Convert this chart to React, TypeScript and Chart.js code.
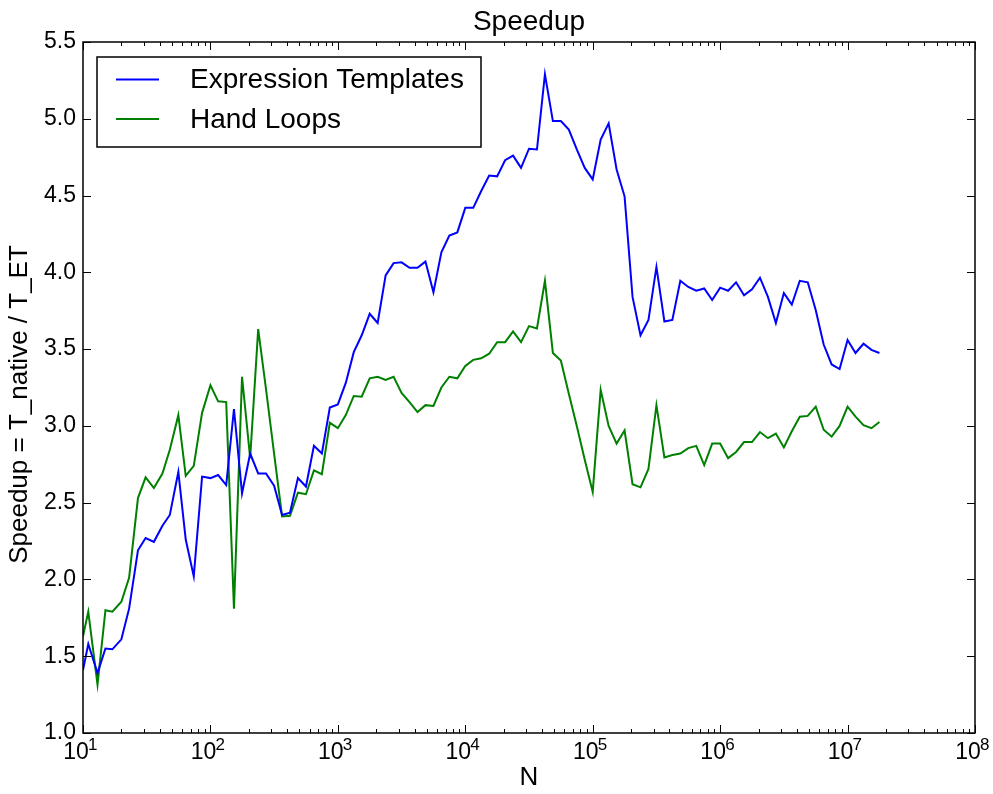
import React, { useEffect, useRef } from 'react';
import { Chart, registerables } from 'chart.js';

Chart.register(...registerables);

// Problem sizes N (log-spaced, 16 per decade)
const N = [
  10, 11, 13, 15, 17, 20, 23, 27, 31, 36, 42, 48, 56, 64, 74, 86,
  100, 115, 133, 153, 177, 205, 237, 273, 316, 365, 421, 486, 562, 649, 749, 865,
  1000, 1154, 1333, 1539, 1778, 2053, 2371, 2738, 3162, 3651, 4216, 4869, 5623, 6493, 7498, 8659,
  10000, 11547, 13335, 15399, 17782, 20535, 23713, 27384, 31622, 36517, 42169, 48696, 56234, 64938, 74989, 86596,
  100000, 115478, 133352, 153992, 177827, 205352, 237137, 273841, 316227, 365174, 421696, 486967, 562341, 649381, 749894, 865964,
  1000000, 1154781, 1333521, 1539926, 1778279, 2053525, 2371373, 2738419, 3162277, 3651741, 4216965, 4869675, 5623413, 6493816, 7498942, 8659643,
  10000000, 11547819, 13335214, 15399265, 17782794,
];

// Speedup, Expression Templates
const ET = [
  1.41, 1.58, 1.39, 1.55, 1.545, 1.61, 1.81, 2.19, 2.27, 2.245, 2.35, 2.42, 2.70, 2.26, 2.02, 2.67,
  2.66, 2.68, 2.615, 3.11, 2.56, 2.82, 2.69, 2.69, 2.61, 2.42, 2.435, 2.66, 2.605, 2.87, 2.82, 3.12,
  3.14, 3.28, 3.48, 3.59, 3.73, 3.67, 3.98, 4.06, 4.065, 4.03, 4.03, 4.07, 3.87, 4.13, 4.24, 4.26,
  4.42, 4.42, 4.53, 4.63, 4.625, 4.73, 4.76, 4.68, 4.805, 4.80, 5.29, 4.985, 4.985, 4.93, 4.80, 4.68,
  4.605, 4.865, 4.97, 4.67, 4.495, 3.84, 3.59, 3.69, 4.035, 3.68, 3.69, 3.945, 3.905, 3.88, 3.895, 3.82,
  3.90, 3.88, 3.935, 3.85, 3.89, 3.965, 3.84, 3.67, 3.865, 3.79, 3.945, 3.935, 3.755, 3.53, 3.40, 3.37,
  3.56, 3.475, 3.535, 3.495, 3.475,
];

// Speedup, Hand Loops
const HL = [
  1.63, 1.79, 1.315, 1.80, 1.79, 1.855, 2.01, 2.53, 2.665, 2.595, 2.69, 2.845, 3.07, 2.675, 2.74, 3.085,
  3.265, 3.16, 3.155, 1.81, 3.32, 2.79, 3.63, 3.24, 2.82, 2.41, 2.415, 2.565, 2.555, 2.71, 2.685, 3.02,
  2.985, 3.07, 3.195, 3.19, 3.31, 3.32, 3.30, 3.32, 3.215, 3.155, 3.09, 3.135, 3.13, 3.25, 3.32, 3.31,
  3.39, 3.43, 3.44, 3.47, 3.545, 3.545, 3.615, 3.545, 3.65, 3.635, 3.945, 3.475, 3.425, 3.21, 3.00, 2.78,
  2.57, 3.235, 3.00, 2.885, 2.97, 2.62, 2.60, 2.72, 3.135, 2.795, 2.81, 2.82, 2.855, 2.87, 2.745, 2.885,
  2.885, 2.79, 2.83, 2.895, 2.895, 2.96, 2.92, 2.95, 2.86, 2.965, 3.06, 3.065, 3.125, 2.975, 2.93, 3.00,
  3.125, 3.06, 3.005, 2.985, 3.025,
];

const SERIES_LABELS = ['Expression Templates', 'Hand Loops'];
const SERIES_COLORS = ['#0000ff', '#008000'];

const X_TICKS = [1e1, 1e2, 1e3, 1e4, 1e5, 1e6, 1e7, 1e8];
const X_EXPONENTS = ['1', '2', '3', '4', '5', '6', '7', '8'];
const Y_TICKS = [1.0, 1.5, 2.0, 2.5, 3.0, 3.5, 4.0, 4.5, 5.0, 5.5];

const TITLE = 'Speedup';
const X_TITLE = 'N';
const Y_TITLE = 'Speedup = T_native / T_ET';

const FONT = "'Liberation Sans', Arial, Helvetica, sans-serif";

const decorPlugin = {
  id: 'decor',
  afterDraw(chart: any) {
    const { ctx, chartArea: a, scales } = chart;
    const xs = scales.x;
    const ys = scales.y;
    ctx.save();
    ctx.strokeStyle = '#000';
    ctx.lineWidth = 1;
    ctx.beginPath();
    for (const v of Y_TICKS) {
      const y = Math.round(ys.getPixelForValue(v)) + 0.5;
      ctx.moveTo(a.left, y);
      ctx.lineTo(a.left + 8, y);
      ctx.moveTo(a.right, y);
      ctx.lineTo(a.right - 8, y);
    }
    for (let d = 1; d <= 8; d++) {
      for (let m = 1; m <= 9; m++) {
        if (d === 8 && m > 1) break;
        const v = m * Math.pow(10, d);
        const x = Math.round(xs.getPixelForValue(v)) + 0.5;
        const len = m === 1 ? 8 : 4;
        ctx.moveTo(x, a.bottom);
        ctx.lineTo(x, a.bottom - len);
        ctx.moveTo(x, a.top);
        ctx.lineTo(x, a.top + len);
      }
    }
    ctx.stroke();

    ctx.lineWidth = 1.5;
    ctx.strokeRect(a.left, a.top, a.right - a.left, a.bottom - a.top);

    // exponents of the x tick labels (10^n)
    ctx.fillStyle = '#000';
    ctx.font = `17px ${FONT}`;
    ctx.textAlign = 'left';
    ctx.textBaseline = 'middle';
    X_TICKS.forEach((v, i) => {
      const x = xs.getPixelForValue(v);
      ctx.fillText(X_EXPONENTS[i], x + 5, a.bottom + 12);
    });

    // y-axis title
    ctx.save();
    ctx.font = `26px ${FONT}`;
    ctx.textAlign = 'center';
    ctx.textBaseline = 'middle';
    ctx.translate(20, (a.top + a.bottom) / 2 + 17);
    ctx.rotate(-Math.PI / 2);
    ctx.fillText(Y_TITLE, 0, 0);
    ctx.restore();

    // title
    ctx.font = `28px ${FONT}`;
    ctx.textAlign = 'center';
    ctx.textBaseline = 'middle';
    ctx.fillText(TITLE, (a.left + a.right) / 2, 22);

    // legend
    const lx = a.left + 14;
    const ly = a.top + 15;
    const lw = 384;
    const lh = 90;
    ctx.fillStyle = '#fff';
    ctx.fillRect(lx, ly, lw, lh);
    ctx.lineWidth = 1.5;
    ctx.strokeStyle = '#000';
    ctx.strokeRect(lx, ly, lw, lh);
    const rows = [ly + 22.5, ly + 62];
    chart.data.datasets.forEach((ds: any, i: number) => {
      ctx.strokeStyle = ds.borderColor;
      ctx.lineWidth = 2;
      ctx.beginPath();
      ctx.moveTo(lx + 19, rows[i]);
      ctx.lineTo(lx + 62, rows[i]);
      ctx.stroke();
      ctx.fillStyle = '#000';
      ctx.font = `28px ${FONT}`;
      ctx.textAlign = 'left';
      ctx.textBaseline = 'middle';
      ctx.fillText(ds.label, lx + 93, rows[i] + 1);
    });
    ctx.restore();
  },
};

export default function App() {
  const ref = useRef<HTMLCanvasElement>(null);

  useEffect(() => {
    if (!ref.current) return;
    Chart.defaults.font.family = FONT;
    const chart = new Chart(ref.current, {
      type: 'line',
      data: {
        datasets: [
          {
            label: SERIES_LABELS[0],
            data: N.map((n, i) => ({ x: n, y: ET[i] })),
            borderColor: SERIES_COLORS[0],
            backgroundColor: SERIES_COLORS[0],
            borderWidth: 2,
            pointRadius: 0,
            tension: 0,
            fill: false,
          },
          {
            label: SERIES_LABELS[1],
            data: N.map((n, i) => ({ x: n, y: HL[i] })),
            borderColor: SERIES_COLORS[1],
            backgroundColor: SERIES_COLORS[1],
            borderWidth: 2,
            pointRadius: 0,
            tension: 0,
            fill: false,
          },
        ],
      },
      options: {
        responsive: false,
        animation: false,
        devicePixelRatio: 1,
        layout: { padding: { top: 42, left: 0, right: 18, bottom: 0 } },
        plugins: {
          legend: { display: false },
          title: { display: false },
          tooltip: { enabled: false },
        },
        scales: {
          x: {
            type: 'logarithmic',
            position: 'bottom',
            min: 10,
            max: 1e8,
            grid: { display: false, drawTicks: false },
            border: { display: false },
            afterBuildTicks: (s: any) => {
              s.ticks = X_TICKS.map((v) => ({ value: v }));
            },
            afterFit: (s: any) => {
              s.height = 61;
              s.paddingLeft = 0;
              s.paddingRight = 0;
            },
            ticks: {
              autoSkip: false,
              maxRotation: 0,
              minRotation: 0,
              padding: 6,
              labelOffset: -7,
              color: '#000',
              font: { size: 23 },
              callback: () => '10',
            },
            title: {
              display: true,
              text: X_TITLE,
              color: '#000',
              font: { size: 26 },
              padding: { top: 0, bottom: 1 },
            },
          },
          y: {
            type: 'linear',
            min: 1,
            max: 5.5,
            grid: { display: false, drawTicks: false },
            border: { display: false },
            afterBuildTicks: (s: any) => {
              s.ticks = Y_TICKS.map((v) => ({ value: v }));
            },
            afterFit: (s: any) => {
              s.width = 83;
              s.paddingTop = 0;
              s.paddingBottom = 0;
            },
            ticks: {
              padding: 7,
              color: '#000',
              font: { size: 23 },
              callback: (v: any) => Number(v).toFixed(1),
            },
            title: { display: false },
          },
        },
      },
      plugins: [decorPlugin],
    } as any);
    return () => chart.destroy();
  }, []);

  return (
    <div style={{ position: 'absolute', left: 0, top: 0, width: 993, height: 794, background: '#fff' }}>
      <canvas ref={ref} width={993} height={794} style={{ display: 'block' }} />
    </div>
  );
}
